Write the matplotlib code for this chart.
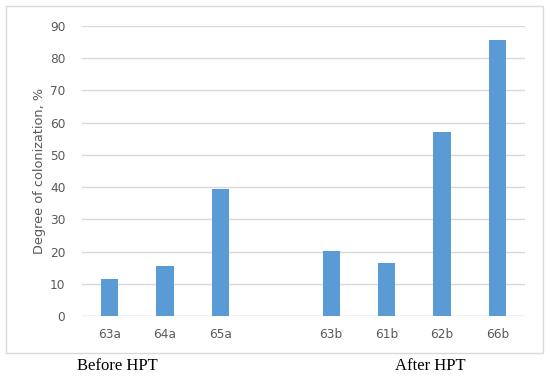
import matplotlib
matplotlib.use("Agg")
import matplotlib.pyplot as plt
import matplotlib.patches as patches

# data
categories = ["63a", "64a", "65a", "", "63b", "61b", "62b", "66b"]
values = [11.5, 15.4, 39.3, None, 20.1, 16.3, 57.1, 85.7]
group_labels = ["Before HPT", "After HPT"]
yticks = list(range(0, 100, 10))

bar_color = "#5b9bd5"
grid_color = "#d9d9d9"
text_color = "#595959"

fig = plt.figure(figsize=(5.5, 3.76), dpi=100)
ax = fig.add_axes([82 / 550, 1 - 316 / 376, (525 - 82) / 550, (316 - 26) / 376])

xs = [i for i, v in enumerate(values) if v is not None]
hs = [v for v in values if v is not None]
ax.bar(xs, hs, width=0.31, color=bar_color, zorder=3)

ax.set_xlim(-0.5, len(categories) - 0.5)
ax.set_ylim(0, 90)
ax.set_yticks(yticks)
ax.set_xticks(range(len(categories)))
ax.set_xticklabels(categories)
ax.tick_params(axis="both", length=0, labelsize=8.7, colors=text_color)
ax.tick_params(axis="x", pad=9)
ax.tick_params(axis="y", pad=12)
ax.yaxis.grid(True, color=grid_color, linewidth=1, zorder=0)
for s in ax.spines.values():
    s.set_visible(False)
ax.axhline(0, color=grid_color, linewidth=1, zorder=2)
ax.set_ylabel("Degree of colonization, %", fontsize=9.3, color=text_color, labelpad=3)

# chart border
fig.patches.append(patches.Rectangle((6 / 550, 1 - 353 / 376), 537 / 550, 347 / 376,
                                     transform=fig.transFigure, fill=False,
                                     edgecolor=grid_color, linewidth=1))

fig.text(77 / 550, 1 - 366 / 376, group_labels[0], fontsize=12,
         family="Liberation Serif", va="center", ha="left", color="black")
fig.text(395 / 550, 1 - 366 / 376, group_labels[1], fontsize=12,
         family="Liberation Serif", va="center", ha="left", color="black")

fig.savefig("out.png", dpi=100, facecolor="white")
